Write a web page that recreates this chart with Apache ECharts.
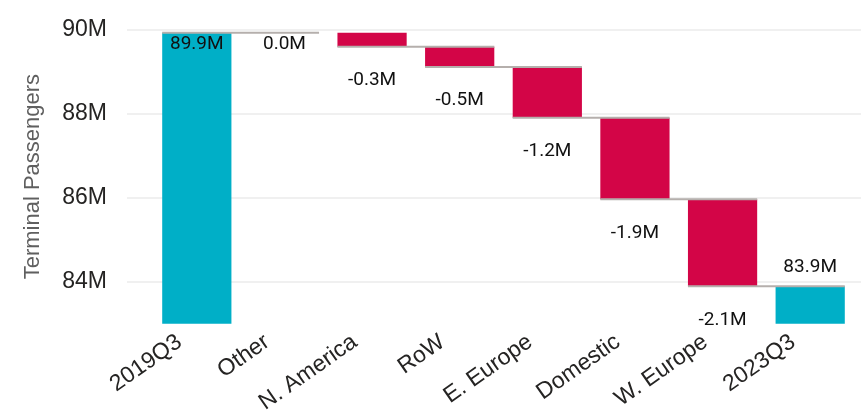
<!DOCTYPE html>
<html>
<head>
<meta charset="utf-8">
<script src="https://cdn.jsdelivr.net/npm/echarts@6/dist/echarts.min.js"></script>
<style>
    html, body { margin: 0; padding: 0; background: #fff; }
    #chart { width: 861px; height: 413px; }
</style>
</head>
<body>
<div id="chart"></div>
<script>
// categories and values (millions)
var categories = ["2019Q3", "Other", "N. America", "RoW", "E. Europe", "Domestic", "W. Europe", "2023Q3"];
var values = [89.92, 0.00, -0.33, -0.48, -1.21, -1.94, -2.07, 83.89];
var isTotal = [true, false, false, false, false, false, false, true];
var yTicks = [84, 86, 88, 90];

var totalColor = "#00AFC7";
var downColor = "#D30547";
var upColor = "#00AFC7";

var chart = echarts.init(document.getElementById("chart"));

// build stack: transparent base + visible part
var baseData = [], barData = [], lineData = [];
var level = 0;
for (var i = 0; i < categories.length; i++) {
    var v = values[i];
    var lbl;
    if (isTotal[i]) {
        level = v;
        baseData.push(0);
        lbl = i == 0 ? { position: "insideTop", distance: 2 } : { position: "top", distance: 10 };
        barData.push({ value: v, itemStyle: { color: totalColor }, label: lbl });
    } else {
        var next = level + v;
        baseData.push(Math.min(level, next));
        if (Math.abs(v) < 0.05) {
            lbl = { position: "insideTop", distance: 2 };
        } else if (v < 0) {
            lbl = { position: "bottom", distance: 24 };
        } else {
            lbl = { position: "top", distance: 24 };
        }
        barData.push({ value: Math.abs(v), itemStyle: { color: v < 0 ? downColor : upColor }, label: lbl });
        level = next;
    }
    // connector from this bar to the next one
    if (i < categories.length - 1 && (isTotal[i] || Math.abs(v) >= 0.05)) {
        lineData.push([i, level]);
    }
}

var options = {
    animation: false,
    grid: [
        { left: 153, right: 7, top: 29.5, bottom: 89.3, outerBoundsMode: "none", containLabel: false },
        { left: 127, right: 0, top: 29.5, bottom: 89.3, outerBoundsMode: "none", containLabel: false }
    ],
    xAxis: [
        {
            type: "category",
            gridIndex: 0,
            data: categories,
            axisLine: { show: false },
            axisTick: { show: false },
            axisLabel: {
                interval: 0,
                rotate: 35,
                margin: 4,
                padding: [0, 21, 0, 0],
                fontFamily: "Liberation Sans",
                fontSize: 23,
                color: "#252423"
            }
        },
        { type: "value", gridIndex: 1, show: false, min: 0, max: 1 }
    ],
    yAxis: [
        { type: "value", gridIndex: 0, min: 83, max: 90, show: false },
        {
            type: "value",
            gridIndex: 1,
            min: 83,
            max: 90,
            interval: 1,
            name: "Terminal Passengers",
            nameLocation: "middle",
            nameGap: 83,
            nameTextStyle: { fontFamily: "Liberation Sans", fontSize: 22, color: "#5F5F5F" },
            axisLine: { show: false },
            axisTick: { show: false },
            axisLabel: {
                margin: 20,
                fontFamily: "Liberation Sans",
                fontSize: 23,
                color: "#252423",
                formatter: function (val) {
                    return yTicks.indexOf(val) >= 0 ? val + "M" : "";
                }
            },
            splitLine: {
                lineStyle: { color: ["rgba(0,0,0,0)", "#EBEBEB"], width: 1.5 }
            }
        }
    ],
    series: [
        {
            name: "base",
            type: "bar",
            stack: "wf",
            xAxisIndex: 0,
            yAxisIndex: 0,
            barWidth: "79%",
            itemStyle: { color: "rgba(0,0,0,0)" },
            emphasis: { disabled: true },
            data: baseData
        },
        {
            name: "change",
            type: "bar",
            stack: "wf",
            xAxisIndex: 0,
            yAxisIndex: 0,
            barWidth: "79%",
            label: {
                show: true,
                fontFamily: "Roboto",
                fontSize: 19,
                color: "#111111",
                formatter: function (p) {
                    var v = values[p.dataIndex];
                    return (v < 0 ? "-" : "") + Math.abs(v).toFixed(1) + "M";
                }
            },
            data: barData
        },
        {
            name: "connector",
            type: "custom",
            xAxisIndex: 0,
            yAxisIndex: 0,
            z: 5,
            renderItem: function (params, api) {
                var p = api.coord([api.value(0), api.value(1)]);
                var band = api.size([1, 0])[0];
                var w = band * 0.79;
                return {
                    type: "line",
                    shape: { x1: p[0] - w / 2, y1: p[1], x2: p[0] + band + w / 2, y2: p[1] },
                    style: { stroke: "#B5AFAC", lineWidth: 2 }
                };
            },
            data: lineData
        }
    ]
};
chart.setOption(options, true);
</script>
</body>
</html>
